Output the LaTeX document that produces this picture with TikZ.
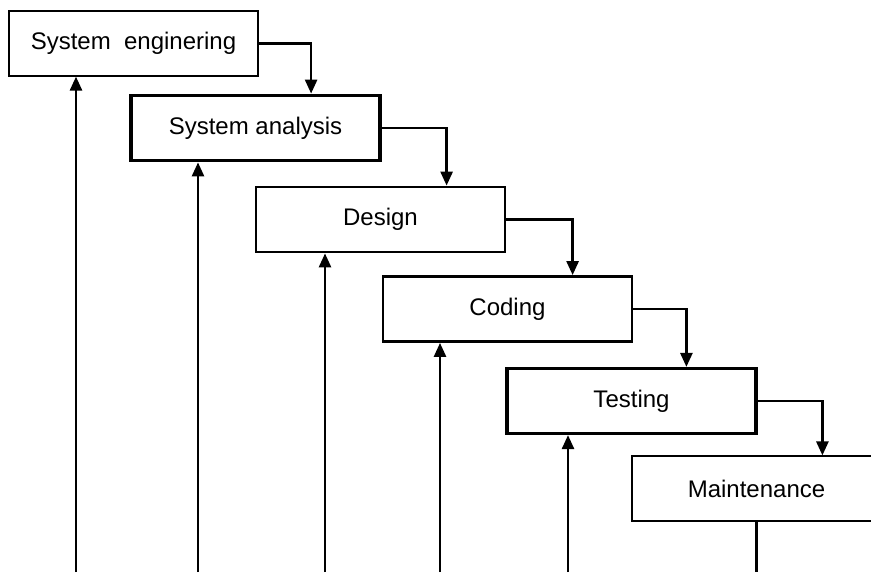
\documentclass[tikz,border=0pt]{standalone}
\usepackage{fontspec}
\setmainfont{Liberation Sans}
\usetikzlibrary{arrows.meta,calc}

\begin{document}
\begin{tikzpicture}[x=0.5pt, y=-0.5pt,
    phase/.style={draw, rectangle, fill=white, minimum width=124.5pt, minimum height=32.5pt,
        inner sep=0pt, font=\fontsize{12}{14}\selectfont},
    flow/.style={line width=1.3pt, -{Triangle[length=7pt,width=6pt]}}]
    \useasboundingbox (0,0) rectangle (871,572);
    \clip (0,0) rectangle (871,572);
    \foreach \n/\x/\y/\lw/\word in {se/133.5/43.5/0.6pt/System\ \ enginering,
        sa/255.5/128/1.9pt/System analysis, de/380.5/219.5/1.4pt/Design,
        co/507.5/309/1.4pt/Coding, te/631.5/401/1.6pt/Testing,
        ma/756.5/488.5/0.6pt/Maintenance} {
        \node[phase, line width=\lw] (\n) at (\x, \y) {\word};
    }
    % waterfall steps
    \foreach \a/\b/\d in {se/sa/182, sa/de/192, de/co/191, co/te/181, te/ma/191}
        \draw[flow] (\a.east) -| ($(\b.north west)+(\d,0)$);
    % feedback from below
    \foreach \n/\x in {se/76, sa/198, de/325, co/440, te/568} {
        \coordinate (f\n) at (\x, 572);
        \draw[flow] (f\n) -- (f\n |- \n.south);
    }
    \coordinate (fma) at (756, 572);
    \draw[line width=1.3pt] (ma.south) -- (ma.south |- fma);
\end{tikzpicture}
\end{document}
